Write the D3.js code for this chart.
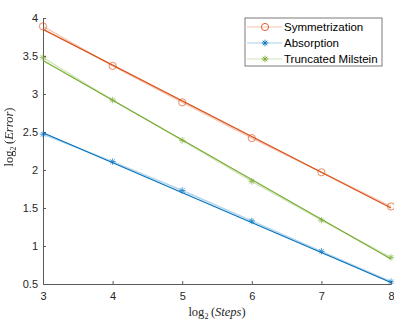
<!DOCTYPE html>
<html>
<head>
<meta charset="utf-8">
<script src="https://cdn.jsdelivr.net/npm/d3@7"></script>
<style>
  body { margin: 0; background: #fff; }
  svg text { font-family: "Liberation Sans", Arial, sans-serif; }
</style>
</head>
<body>
<svg id="chart"></svg>
<script>
// data
var steps = [3, 4, 5, 6, 7, 8];
var seriesNames = ['Symmetrization', 'Absorption', 'Truncated Milstein'];
var symmetrization = [3.89, 3.37, 2.89, 2.42, 1.97, 1.52];
var absorption = [2.47, 2.11, 1.73, 1.33, 0.93, 0.53];
var milstein = [3.48, 2.92, 2.39, 1.85, 1.34, 0.85];
// fitted lines: value at x=3 and x=8
var fitSym = [3.85, 1.50];
var fitAbs = [2.49, 0.52];
var fitMil = [3.44, 0.83];
var xTicks = [3, 4, 5, 6, 7, 8];
var yTicks = [0.5, 1, 1.5, 2, 2.5, 3, 3.5, 4];

var colors = ['#D95319', '#0072BD', '#77AC30'];
var markers = ['circle', 'star', 'star'];

var W = 394, H = 320;
var margin = {top: 18, right: 3, bottom: 36, left: 43},
    width = W - margin.left - margin.right,
    height = H - margin.top - margin.bottom;

var svg = d3.select('#chart').attr('width', W).attr('height', H)
    .append('g')
    .attr('transform', 'translate(' + margin.left + ',' + margin.top + ')');

var x = d3.scaleLinear().domain([3, 8]).range([0, width]);
var y = d3.scaleLinear().domain([0.5, 4]).range([height, 0]);

// axes (ticks point inward like matlab)
var axisColor = '#5a5a5a';
var gx = svg.append('g')
    .attr('transform', 'translate(0,' + height + ')')
    .call(d3.axisBottom(x).tickValues(xTicks).tickSizeInner(-3).tickSizeOuter(0).tickPadding(8)
        .tickFormat(String));
var gy = svg.append('g')
    .call(d3.axisLeft(y).tickValues(yTicks).tickSizeInner(-3).tickSizeOuter(0).tickPadding(5)
        .tickFormat(String));
[gx, gy].forEach(function(g) {
    g.select('.domain').attr('stroke', axisColor);
    g.selectAll('.tick line').attr('stroke', axisColor);
    g.selectAll('.tick text').attr('fill', '#262626').style('font-size', '11px');
});

var data = [symmetrization, absorption, milstein];
var fits = [fitSym, fitAbs, fitMil];

var line = d3.line()
    .x(function(d, i) { return x(steps[i]); })
    .y(function(d) { return y(d); });

function drawMarker(g, type, color, cx, cy) {
    if (type === 'circle') {
        g.append('circle').attr('cx', cx).attr('cy', cy).attr('r', 3.6)
            .attr('fill', 'none').attr('stroke', color).attr('stroke-width', 0.9);
    } else {
        // asterisk: 4 strokes
        var r = 3.3;
        var a = g.append('g').attr('transform', 'translate(' + cx + ',' + cy + ')')
            .attr('stroke', color).attr('stroke-width', 0.9);
        [[0, -r, 0, r], [-r, 0, r, 0], [-r * 0.7, -r * 0.7, r * 0.7, r * 0.7], [-r * 0.7, r * 0.7, r * 0.7, -r * 0.7]]
            .forEach(function(s) {
                a.append('line').attr('x1', s[0]).attr('y1', s[1]).attr('x2', s[2]).attr('y2', s[3]);
            });
    }
}

data.forEach(function(vals, k) {
    // measured data: faint line
    svg.append('path')
        .datum(vals)
        .attr('d', line)
        .attr('fill', 'none')
        .attr('stroke', colors[k])
        .attr('stroke-opacity', 0.3)
        .attr('stroke-width', 1.5);
    // fitted line
    svg.append('line')
        .attr('x1', x(3)).attr('y1', y(fits[k][0]))
        .attr('x2', x(8)).attr('y2', y(fits[k][1]))
        .attr('stroke', colors[k])
        .attr('stroke-width', 1.2);
    var mg = svg.append('g').attr('opacity', 0.75);
    vals.forEach(function(v, i) {
        drawMarker(mg, markers[k], colors[k], x(steps[i]), y(v));
    });
});

// axis labels (latex-ish serif)
function mathLabel(t, word) {
    t.attr('text-anchor', 'middle')
        .attr('fill', '#262626')
        .style('font-family', '"Liberation Serif", "Times New Roman", serif')
        .style('font-size', '12.5px');
    t.append('tspan').text('log');
    t.append('tspan').attr('dy', 3).style('font-size', '8px').text('2');
    t.append('tspan').attr('dy', -3).text('\u2009(');
    t.append('tspan').style('font-style', 'italic').text(word);
    t.append('tspan').text(')');
}

mathLabel(svg.append('text')
    .attr('x', width / 2)
    .attr('y', height + 32), 'Steps');

mathLabel(svg.append('text')
    .attr('transform', 'translate(' + (-30) + ',' + (height / 2 - 14) + ') rotate(-90)'), 'Error');

// legend
var lg = svg.append('g').attr('transform', 'translate(' + (245 - margin.left) + ',' + (18 - margin.top) + ')');
lg.append('rect')
    .attr('width', 137).attr('height', 48)
    .attr('fill', '#fff').attr('stroke', '#5a5a5a').attr('stroke-width', 0.8);
seriesNames.forEach(function(name, k) {
    var yy = 9 + k * 16;
    lg.append('line').attr('x1', 2).attr('x2', 37).attr('y1', yy).attr('y2', yy)
        .attr('stroke', colors[k]).attr('stroke-opacity', 0.35).attr('stroke-width', 1);
    drawMarker(lg, markers[k], colors[k], 20, yy);
    lg.append('text').attr('x', 39).attr('y', yy).attr('dy', '0.35em')
        .attr('fill', '#000').style('font-size', '11.5px').text(name);
});
</script>
</body>
</html>
